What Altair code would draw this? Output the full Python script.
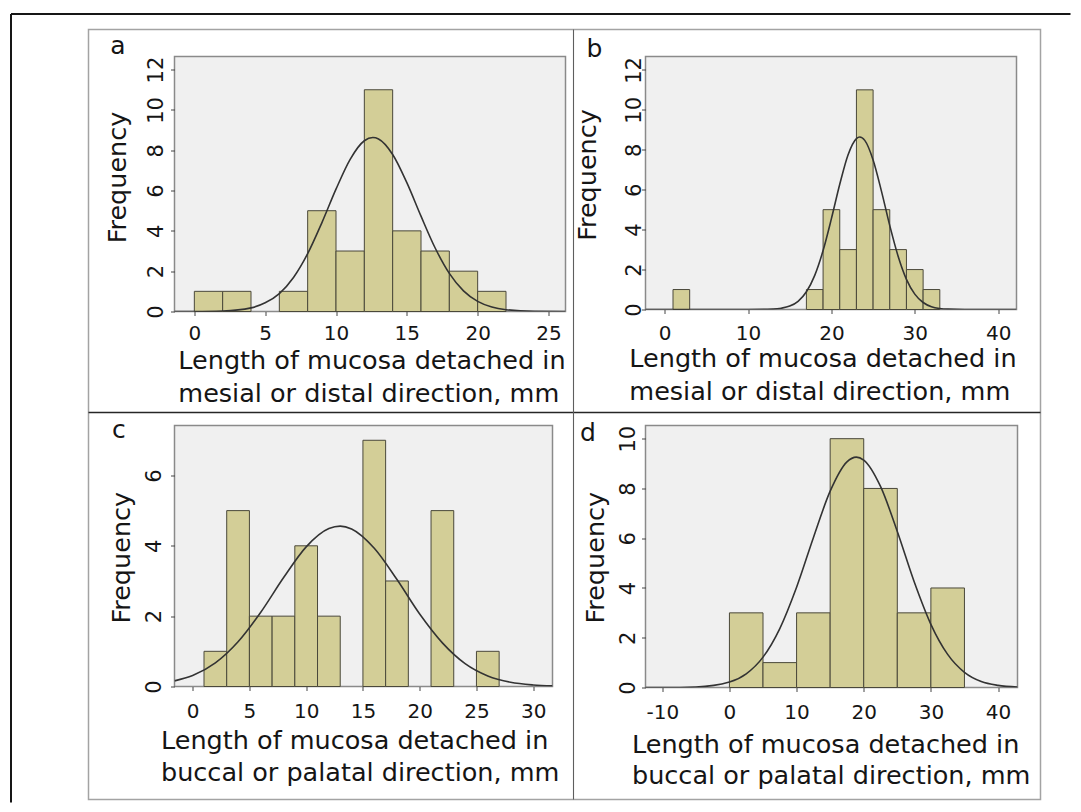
import altair as alt
import pandas as pd

FONT = "DejaVu Sans"
TXT = "#151515"

# ---------------- data ----------------
# panel a
a_start = [0, 2, 4, 6, 8, 10, 12, 14, 16, 18, 20]
a_end = [2, 4, 6, 8, 10, 12, 14, 16, 18, 20, 22]
a_count = [1, 1, 0, 1, 5, 3, 11, 4, 3, 2, 1]
a_cx = [-1.4, 0, 2, 4, 5, 6, 7, 8, 9, 10, 11, 12, 12.6, 13, 14, 15, 16, 17, 18, 19, 20, 21, 22, 24, 26.2]
a_cy = [0.0, 0.002, 0.025, 0.18, 0.43, 0.89, 1.69, 2.87, 4.40, 6.07, 7.55, 8.47, 8.63, 8.56, 7.79, 6.39,
        4.73, 3.15, 1.89, 1.02, 0.50, 0.22, 0.09, 0.01, 0.0]

# panel b
b_start = [1, 17, 19, 21, 23, 25, 27, 29, 31]
b_end = [3, 19, 21, 23, 25, 27, 29, 31, 33]
b_count = [1, 1, 5, 3, 11, 5, 3, 2, 1]
b_cx = [-2.3, 10, 13, 14, 15, 16, 17, 18, 19, 20, 21, 22, 23, 23.4, 24, 25, 26, 27, 28, 29, 30, 31, 32,
        33, 34, 36, 42.2]
b_cy = [0.0, 0.0, 0.02, 0.064, 0.17, 0.41, 0.89, 1.71, 2.95, 4.55, 6.27, 7.75, 8.56, 8.64, 8.47, 7.49,
        5.93, 4.20, 2.67, 1.51, 0.77, 0.35, 0.14, 0.05, 0.017, 0.001, 0.0]

# panel c
c_start = [1, 3, 5, 7, 9, 11, 13, 15, 17, 19, 21, 23, 25]
c_end = [3, 5, 7, 9, 11, 13, 15, 17, 19, 21, 23, 25, 27]
c_count = [1, 5, 2, 2, 4, 2, 0, 7, 3, 0, 5, 0, 1]
c_cx = [-1.6, 0, 2, 4, 6, 8, 10, 12, 13, 14, 16, 18, 20, 22, 24, 26, 28, 30, 31.7]
c_cy = [0.16, 0.31, 0.67, 1.27, 2.11, 3.09, 3.97, 4.49, 4.56, 4.48, 3.93, 3.04, 2.06, 1.24, 0.65, 0.30,
        0.12, 0.044, 0.017]

# panel d
d_start = [0, 5, 10, 15, 20, 25, 30]
d_end = [5, 10, 15, 20, 25, 30, 35]
d_count = [3, 1, 3, 10, 8, 3, 4]
d_cx = [-12.5, -10, -5, 0, 2.5, 5, 7.5, 10, 12.5, 15, 17.5, 18.9, 20, 22.5, 25, 27.5, 30, 32.5, 35,
        37.5, 40, 42.9]
d_cy = [0.0, 0.001, 0.023, 0.22, 0.55, 1.22, 2.37, 4.03, 6.02, 7.89, 9.07, 9.26, 9.14, 8.08, 6.27, 4.26,
        2.54, 1.33, 0.61, 0.24, 0.086, 0.022]

title_md = ["Length of mucosa detached in", "mesial or distal direction, mm"]
title_bp = ["Length of mucosa detached in", "buccal or palatal direction, mm"]
y_title = "Frequency"

ONE = pd.DataFrame({"k": [0]})


def panel(letter, letter_pos, starts, ends, counts, cx, cy, xdom, xticks, ydom, yticks,
          w, h, xtitle, xt_pos, xt_lh, xlab_pad, yt_pos, ylab_pad, extra=None):
    bars_df = pd.DataFrame({"x0": starts, "x1": ends, "n": counts})
    curve_df = pd.DataFrame({"x": cx, "y": cy})
    xs = alt.Scale(domain=xdom, nice=False, zero=False)
    ys = alt.Scale(domain=ydom, nice=False, zero=False)
    xaxis = alt.Axis(values=xticks, labelExpr="'' + datum.value", title=xtitle,
                     labelBaseline="alphabetic", labelPadding=xlab_pad,
                     titleX=xt_pos[0], titleY=xt_pos[1], titleAlign="left",
                     titleBaseline="alphabetic", titleAngle=0, titleLineHeight=xt_lh)
    yaxis = alt.Axis(values=yticks, labelExpr="'' + datum.value", title=y_title,
                     labelAngle=270, labelAlign="center", labelBaseline="alphabetic",
                     labelFontSize=21,
                     labelPadding=ylab_pad, titleAngle=270, titleAlign="center",
                     titleBaseline="alphabetic", titleX=yt_pos[0], titleY=yt_pos[1])
    bars = alt.Chart(bars_df).transform_filter("datum.n > 0").transform_calculate(
        base="0"
    ).mark_rect(
        fill="#d3ce97", stroke="#4a483a", strokeWidth=1, opacity=1
    ).encode(
        x=alt.X("x0:Q", scale=xs, axis=xaxis),
        x2="x1:Q",
        y=alt.Y("n:Q", scale=ys, axis=yaxis),
        y2="base:Q",
    )
    curve = alt.Chart(curve_df).mark_line(
        color="#333333", strokeWidth=1.6, interpolate="monotone", clip=True
    ).encode(
        x=alt.X("x:Q", scale=xs, axis=xaxis),
        y=alt.Y("y:Q", scale=ys, axis=yaxis),
    )
    lab = alt.Chart(ONE).mark_text(
        text=letter, font=FONT, fontSize=25, color=TXT, align="center", baseline="alphabetic"
    ).encode(x=alt.value(letter_pos[0]), y=alt.value(letter_pos[1]))
    layers = []
    if extra:
        layers.extend(extra)
    layers.extend([bars, curve, lab])
    return alt.layer(*layers).properties(width=w, height=h)


# frame decorations (relative to panel a plot origin)
frame = [
    alt.Chart(ONE).mark_rect(fillOpacity=0, stroke="#a3a3a3", strokeWidth=1.5).encode(
        x=alt.value(-86), x2=alt.value(866), y=alt.value(-27), y2=alt.value(743)),
    alt.Chart(ONE).mark_rule(color="#262626", strokeWidth=1.3).encode(
        x=alt.value(-86), x2=alt.value(866), y=alt.value(356)),
    alt.Chart(ONE).mark_rule(color="#5e5e5e", strokeWidth=1.1).encode(
        x=alt.value(399), y=alt.value(-27), y2=alt.value(743)),
    alt.Chart(ONE).mark_rule(color="#161616", strokeWidth=2).encode(
        x=alt.value(-163.5), x2=alt.value(896), y=alt.value(-42.5)),
    alt.Chart(ONE).mark_rule(color="#161616", strokeWidth=2).encode(
        x=alt.value(-163.5), y=alt.value(-42.5), y2=alt.value(746)),
]

pa = panel("a", (-56.5, -3), a_start, a_end, a_count, a_cx, a_cy, [-1.4, 26.2], [0, 5, 10, 15, 20, 25],
           [0, 12.65], [0, 2, 4, 6, 8, 10, 12], 391, 255, title_md, (3.3, 57.3), 33, 24.3,
           (-49, 120.5), 8.2, extra=frame)
pb = panel("b", (-51, 0.7), b_start, b_end, b_count, b_cx, b_cy, [-2.3, 42.2], [0, 10, 20, 30, 40],
           [0, 12.67], [0, 2, 4, 6, 8, 10, 12], 371, 253, title_md, (-16.7, 57), 33, 26.3,
           (-50, 118), 1.2)
pc = panel("c", (-55.7, 12), c_start, c_end, c_count, c_cx, c_cy, [-1.6, 31.7], [0, 5, 10, 15, 20, 25, 30],
           [0, 7.42], [0, 2, 4, 6], 378, 261, title_bp, (-14, 62.3), 31.7, 27.3,
           (-44.7, 131.7), 10.2)
pd_ = panel("d", (-57.5, 15), d_start, d_end, d_count, d_cx, d_cy, [-12.5, 42.9], [-10, 0, 10, 20, 30, 40],
            [0, 10.53], [0, 2, 4, 6, 8, 10], 372, 262, title_bp, (-14, 64.7), 31.7, 27.3,
            (-42.3, 131.7), 6.7)

chart = alt.concat(
    pa, pb, pc, pd_, columns=2, spacing={"row": 114, "column": 80}, bounds="flush", align="each"
).properties(
    padding={"left": 0.5, "top": 3.5, "right": 0, "bottom": 0},
    background="white",
).configure_view(
    fill="#f0f0f0", stroke="#8a8a8a", strokeWidth=1.5
).configure_axis(
    domain=False, grid=False, ticks=True, tickColor="#444444", tickSize=4, tickWidth=1,
    labelFont=FONT, labelFontSize=20, labelColor=TXT, labelFlush=False, labelOverlap=False,
    titleFont=FONT, titleFontSize=25.5, titleColor=TXT, titleFontWeight="normal",
)

chart.save("out.html", embed_options={"renderer": "svg", "actions": False})
